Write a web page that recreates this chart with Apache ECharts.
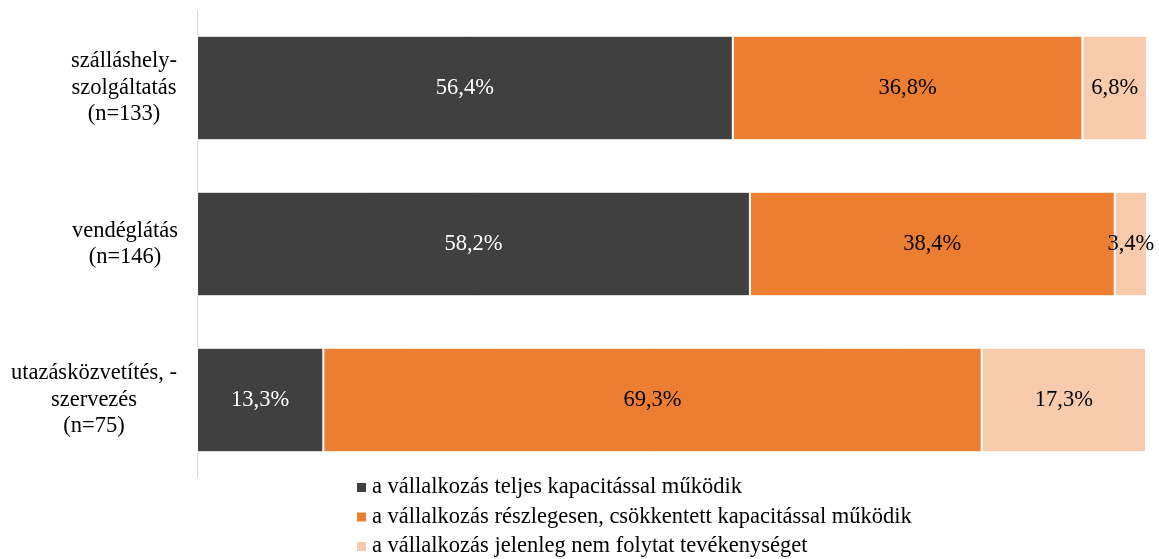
<!DOCTYPE html>
<html>
<head>
<meta charset="utf-8">
<script src="https://cdn.jsdelivr.net/npm/echarts@6/dist/echarts.min.js"></script>
<style>
  html, body { margin: 0; padding: 0; background: #fff; }
  #chart { width: 1159px; height: 559px; }
</style>
</head>
<body>
<div id="chart"></div>
<script>
// categories (top to bottom)
const categories = [
  ['szálláshely-', 'szolgáltatás', '(n=133)'],
  ['vendéglátás', '(n=146)'],
  ['utazásközvetítés, -', 'szervezés', '(n=75)']
]
const seriesNames = [
  'a vállalkozás teljes kapacitással működik',
  'a vállalkozás részlegesen, csökkentett kapacitással működik',
  'a vállalkozás jelenleg nem folytat tevékenységet'
]
const fullCapacity = [56.4, 58.2, 13.3]
const partialCapacity = [36.8, 38.4, 69.3]
const noActivity = [6.8, 3.4, 17.3]

const colors = ['#404040', '#ED7D31', '#F8CBAD']
const labelColors = ['#ffffff', '#000000', '#000000']
const font = "'Liberation Serif', 'Times New Roman', serif"

const chart = echarts.init(document.getElementById('chart'))

const values = [fullCapacity, partialCapacity, noActivity]
const catRich = (w) => ({ width: w, align: 'center', fontSize: 22.5, lineHeight: 26.5, fontFamily: font, color: '#000' })

// one legend per row so the column never wraps
const legendTops = [476, 505.5, 535]

chart.setOption({
  animation: false,
  textStyle: { fontFamily: font },
  grid: { left: 197, right: 12, top: 10, bottom: 81 },
  legend: seriesNames.map((name, i) => ({
    left: 355,
    top: legendTops[i],
    padding: 0,
    itemWidth: 11,
    itemHeight: 11,
    icon: 'rect',
    data: [name],
    textStyle: { fontFamily: font, fontSize: 22.5, color: '#000', lineHeight: 22 }
  })),
  xAxis: {
    type: 'value',
    min: 0,
    max: 100,
    show: false
  },
  yAxis: {
    type: 'category',
    inverse: true,
    data: ['c0', 'c1', 'c2'],
    axisLine: { lineStyle: { color: '#d9d9d9' } },
    axisTick: { length: 7, lineStyle: { color: '#d9d9d9' } },
    axisLabel: {
      margin: 19,
      formatter: (v, idx) => categories[idx].map(l => '{w' + idx + '|' + l + '}').join('\n'),
      rich: {
        w0: catRich(108),
        w1: catRich(106),
        w2: catRich(168)
      }
    }
  },
  series: seriesNames.map((name, s) => ({
    name: name,
    type: 'bar',
    stack: 'total',
    barCategoryGap: '33%',
    data: values[s],
    itemStyle: { color: colors[s], borderColor: '#ffffff', borderWidth: 1 },
    label: {
      show: true,
      position: 'inside',
      fontFamily: font,
      fontSize: 22.5,
      color: labelColors[s],
      formatter: p => p.value.toFixed(1).replace('.', ',') + '%'
    }
  }))
})
</script>
</body>
</html>
